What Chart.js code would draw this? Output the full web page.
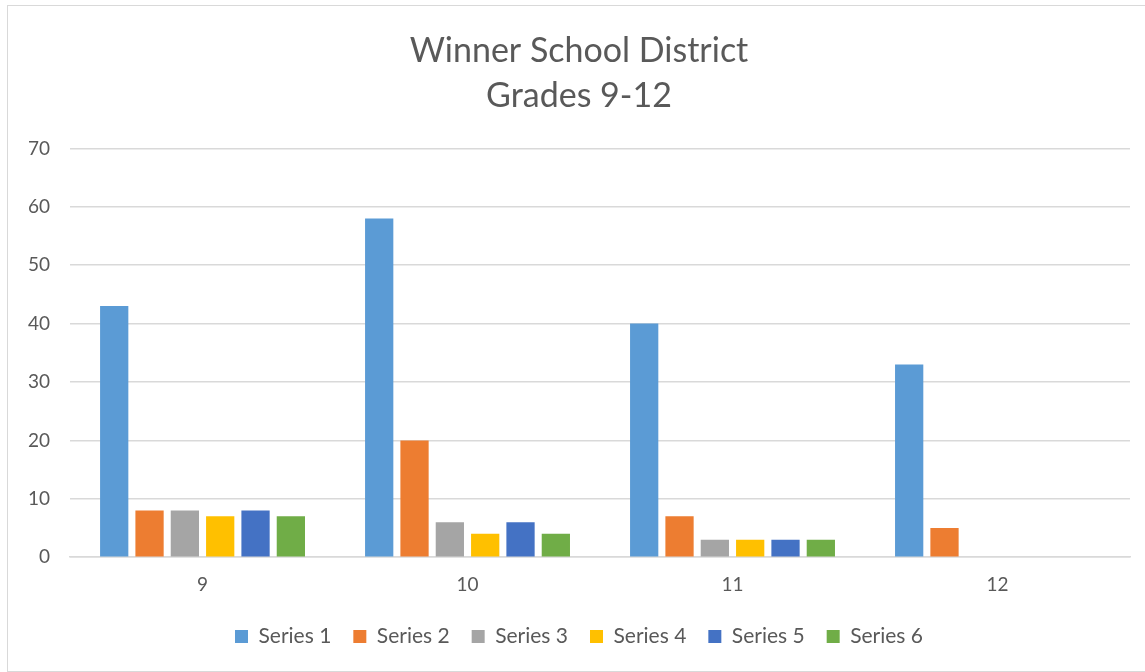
<!DOCTYPE html>
<html>
<head>
<meta charset="utf-8">
<script src="https://cdn.jsdelivr.net/npm/chart.js@4"></script>
<style>
  html, body { margin: 0; padding: 0; background: #fff; overflow: hidden; }
  #box {
    position: absolute; left: 7px; top: 5px;
    width: 1148px; height: 667px;
    border: 1px solid #d9d9d9;
    box-sizing: border-box;
  }
</style>
</head>
<body>
<div id="box"><canvas id="chart"></canvas></div>
<script>
// chart data
const grades = ["9", "10", "11", "12"]
const seriesNames = ["Series 1", "Series 2", "Series 3", "Series 4", "Series 5", "Series 6"]
const series1 = [43, 58, 40, 33]
const series2 = [8, 20, 7, 5]
const series3 = [8, 6, 3, 0]
const series4 = [7, 4, 3, 0]
const series5 = [8, 6, 3, 0]
const series6 = [7, 4, 3, 0]
const colors = ["#5B9BD5", "#ED7D31", "#A5A5A5", "#FFC000", "#4472C4", "#70AD47"]

const allSeries = [series1, series2, series3, series4, series5, series6]
const datasets = allSeries.map((vals, i) => ({
    label: seriesNames[i],
    data: vals,
    backgroundColor: colors[i],
    categoryPercentage: 0.8,
    barPercentage: 0.8,
}))

const font = "Lato, 'Open Sans', sans-serif"

new Chart(document.getElementById("chart").getContext("2d"), {
    type: "bar",
    data: { labels: grades, datasets: datasets },
    options: {
        responsive: true,
        maintainAspectRatio: false,
        animation: false,
        layout: { padding: { left: 20, right: 24, top: 22, bottom: 14 } },
        plugins: {
            title: {
                display: true,
                text: ["Winner School District", "Grades 9-12"],
                color: "#595959",
                font: { family: font, size: 34, weight: "normal", lineHeight: 1.33 },
                padding: { top: 0, bottom: 30 },
            },
            legend: {
                position: "bottom",
                labels: {
                    color: "#595959",
                    boxWidth: 13,
                    boxHeight: 13,
                    padding: 22,
                    font: { family: font, size: 21 },
                },
            },
            tooltip: { enabled: false },
        },
        scales: {
            x: {
                grid: { display: false },
                border: { display: true, color: "#d9d9d9", width: 1.5 },
                ticks: { color: "#595959", font: { family: font, size: 19 }, padding: 8 },
            },
            y: {
                min: 0,
                max: 70,
                ticks: { stepSize: 10, color: "#595959", font: { family: font, size: 19 }, padding: 20 },
                grid: { color: "#d9d9d9", lineWidth: 1.5, drawTicks: false },
                border: { display: false },
                // pull the axis into the left padding so the plot starts where it does in the picture
                afterFit: (scale) => { scale.width -= 20 },
            },
        },
    },
})
</script>
</body>
</html>
